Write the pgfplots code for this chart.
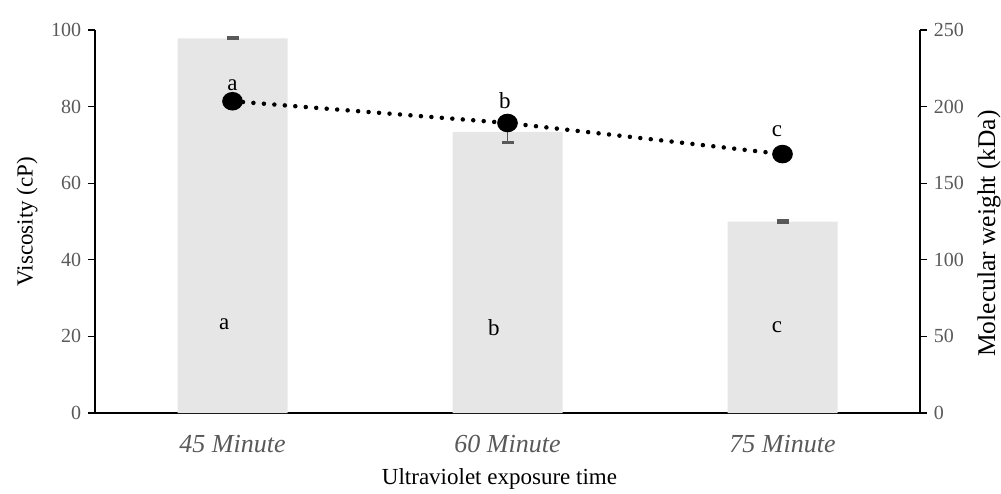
\documentclass[border=0pt]{standalone}
\usepackage{pgfplots}
\pgfplotsset{compat=1.18}
\usepackage{fontspec}
\setmainfont{Liberation Serif}
\definecolor{barfill}{HTML}{E6E6E6}
\definecolor{tickgray}{HTML}{595959}
\begin{document}
\fontsize{20}{24}\selectfont
\begin{tikzpicture}
\useasboundingbox (-95pt,-80pt) rectangle (906pt,413pt);
\pgfplotsset{every axis/.append style={
  scale only axis, width=825pt, height=383pt,
  at={(0pt,0pt)}, anchor=south west,
  xmin=-0.5, xmax=2.5, clip=false,
  axis line style={line width=1.2pt, black},
  tick align=outside, major tick length=7pt,
  every tick/.style={line width=1.2pt, black},
  tick label style={font=\fontsize{20}{24}\selectfont, text=tickgray},
  label style={font=\fontsize{23}{27}\selectfont, text=black},
  /pgf/number format/assume math mode=true,
}}
\begin{axis}[
  ymin=0, ymax=100, ytick={0,20,40,60,80,100},
  axis y line*=left, axis x line*=bottom,
  xtick={0,1,2}, xticklabels={45 Minute,60 Minute,75 Minute},
  x tick label style={font=\fontsize{26}{30}\selectfont\itshape, text=tickgray, yshift=-8pt},
  x tick style={draw=none},
  ylabel={Viscosity (cP)},
  xlabel={Ultraviolet exposure time},
  xlabel style={yshift=-3pt, xshift=-8pt},
  ylabel style={yshift=0pt},
]
\addplot[ybar, bar width=0.4, fill=barfill, draw=none,
  error bars/.cd, y dir=both, y explicit,
  error bar style={line width=1.5pt, tickgray},
  error mark options={rotate=90, mark size=6pt, line width=3pt, tickgray}]
  table[x=x, y=y, y error=e] {
x y e
0 97.8 0.15
1 73.4 2.9
2 50.0 0.15
};
\node[font=\fontsize{23}{27}\selectfont] at (axis cs:-0.03,23.3) {a};
\node[font=\fontsize{23}{27}\selectfont] at (axis cs:0.95,22.3) {b};
\node[font=\fontsize{23}{27}\selectfont] at (axis cs:1.98,22.3) {c};
\end{axis}
\begin{axis}[
  ymin=0, ymax=250, ytick={0,50,100,150,200,250},
  axis y line*=right, axis x line=none,
  ylabel={Molecular weight (kDa)},
  ylabel style={font=\fontsize{25.5}{30}\selectfont, yshift=0pt, xshift=-12pt},
]
\addplot[black, line width=4.5pt, line cap=round, dash pattern=on 0pt off 10.5pt,
  mark=*, mark options={solid, xscale=1.15}, mark size=7pt]
  table[x=x, y=y] {
x y
0 203.5
1 189.3
2 169.0
};
\node[font=\fontsize{23}{27}\selectfont] at (axis cs:0,214) {a};
\node[font=\fontsize{23}{27}\selectfont] at (axis cs:0.99,204) {b};
\node[font=\fontsize{23}{27}\selectfont] at (axis cs:1.98,184) {c};
\end{axis}
\end{tikzpicture}
\end{document}
